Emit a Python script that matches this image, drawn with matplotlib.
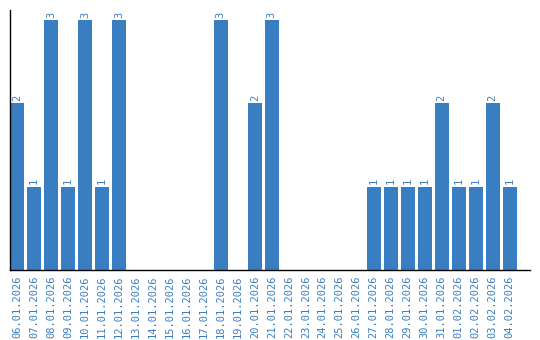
import numpy as np
import matplotlib
matplotlib.use('Agg')
import matplotlib.pyplot as plt

dates = [
	'06.01.2026', '07.01.2026', '08.01.2026', '09.01.2026', '10.01.2026',
	'11.01.2026', '12.01.2026', '13.01.2026', '14.01.2026', '15.01.2026',
	'16.01.2026', '17.01.2026', '18.01.2026', '19.01.2026', '20.01.2026',
	'21.01.2026', '22.01.2026', '23.01.2026', '24.01.2026', '25.01.2026',
	'26.01.2026', '27.01.2026', '28.01.2026', '29.01.2026', '30.01.2026',
	'31.01.2026', '01.02.2026', '02.02.2026', '03.02.2026', '04.02.2026',
]
counts = [2, 1, 3, 1, 3, 1, 3, 0, 0, 0, 0, 0, 3, 0, 2, 3, 0, 0, 0, 0, 0,
	1, 1, 1, 1, 2, 1, 1, 2, 1]

blue = '#3a7ec2'
font = 'DejaVu Sans Mono'

fig = plt.figure(figsize=(5.4, 3.4), dpi=100)
ax = fig.add_axes([10 / 540, 70 / 340, 520 / 540, 260 / 340])

x = np.arange(len(dates))
width = 0.82
ax.bar(x, counts, width=width, color=blue)

# value labels above non-empty bars
for xi, c in zip(x, counts):
	if c > 0:
		ax.text(xi, c + 0.03, str(c), rotation=90, ha='center', va='bottom',
			color=blue, fontsize=7.5, family=font)

ax.set_xticks(x)
ax.set_xticklabels(dates, rotation=90, color=blue, fontsize=7.5, family=font)
ax.tick_params(axis='x', length=0, pad=4)
ax.set_yticks([])
ax.set_xlim(-width / 2, 30.2)
ax.set_ylim(0, 3.12)

for side in ['top', 'right']:
	ax.spines[side].set_visible(False)
ax.spines['left'].set_linewidth(1)
ax.spines['bottom'].set_linewidth(1)

fig.savefig('out.png', dpi=100)
